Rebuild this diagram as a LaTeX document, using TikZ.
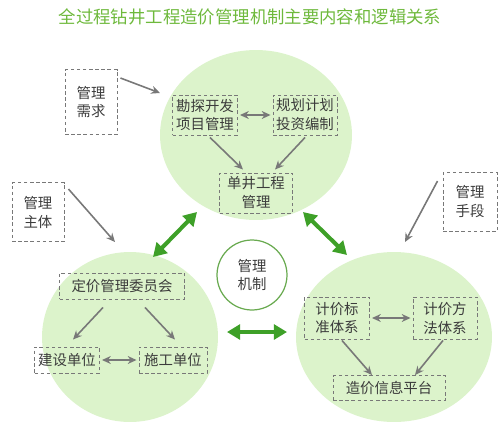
\documentclass[tikz,border=0pt]{standalone}
\usepackage{fontspec}
\newfontfamily\cjk{Noto Sans CJK SC}
\usetikzlibrary{shapes.geometric,arrows.meta,calc}
\definecolor{titlegreen}{RGB}{110,185,60}
\definecolor{circfill}{RGB}{220,243,203}
\definecolor{arrgreen}{RGB}{62,160,40}
\definecolor{ringgreen}{RGB}{105,170,80}
\definecolor{boxgray}{RGB}{120,120,120}
\definecolor{txtgray}{RGB}{60,60,60}
\definecolor{linegray}{RGB}{120,120,120}
\tikzset{
  zone/.style={ellipse, fill=circfill, inner sep=0pt},
  dbox/.style={draw=boxgray, dash pattern=on 2pt off 1.5pt, line width=0.55pt, text=txtgray,
    font=\cjk\fontsize{8.2}{10.8}\selectfont, align=center, inner sep=0pt},
  garr/.style={draw=linegray, line width=0.9pt, -{Stealth[length=5pt,width=4.5pt]}},
  gdarr/.style={draw=linegray, line width=0.9pt, {Stealth[length=5pt,width=4.5pt]}-{Stealth[length=5pt,width=4.5pt]}},
  bigarr/.style={draw=arrgreen, line width=2.3pt, {Triangle[length=7.5pt,width=8.5pt]}-{Triangle[length=7.5pt,width=8.5pt]}},
}
\begin{document}
\begin{tikzpicture}[x=0.02cm,y=-0.02cm]
\useasboundingbox (0,0) rectangle (500,423);
\node[font=\cjk\fontsize{9.9}{12}\selectfont, text=titlegreen] (title) at (250,17) {全过程钻井工程造价管理机制主要内容和逻辑关系};
% three zones
\node[zone, minimum width=3.84cm, minimum height=3.4cm] (topc) at (256,135) {};
\node[zone, minimum width=3.52cm, minimum height=3.4cm] (leftc) at (130,337) {};
\node[zone, minimum width=3.92cm, minimum height=3.4cm] (rightc) at (394,337) {};
\node[circle, draw=ringgreen, line width=0.7pt, fill=white, minimum size=1.4cm, inner sep=0pt,
  text=txtgray, font=\cjk\fontsize{8.2}{10.8}\selectfont, align=center] (jz) at (252,275) {管理\\机制};
% outer boxes
\node[dbox, minimum width=1.04cm, minimum height=1.3cm] (xq) at (91,102) {管理\\需求};
\node[dbox, minimum width=1.04cm, minimum height=1.18cm] (zt) at (38,212) {管理\\主体};
\node[dbox, minimum width=1.08cm, minimum height=1.18cm] (sd) at (470,202) {管理\\手段};
% top zone
\node[dbox, minimum width=1.3cm, minimum height=0.8cm] (kt) at (205,115) {勘探开发\\项目管理};
\node[dbox, minimum width=1.28cm, minimum height=0.8cm] (gh) at (305,115) {规划计划\\投资编制};
\node[dbox, minimum width=1.46cm, minimum height=0.8cm] (dj) at (256,193) {单井工程\\管理};
% left zone
\node[dbox, minimum width=2.5cm, minimum height=0.52cm] (dw) at (122,286) {定价管理委员会};
\node[dbox, minimum width=1.3cm, minimum height=0.52cm] (js) at (67,360) {建设单位};
\node[dbox, minimum width=1.36cm, minimum height=0.52cm] (sg) at (173,360) {施工单位};
% right zone
\node[dbox, minimum width=1.3cm, minimum height=0.84cm] (bz) at (337,318) {计价标\\准体系};
\node[dbox, minimum width=1.28cm, minimum height=0.84cm] (ff) at (445,318) {计价方\\法体系};
\node[dbox, minimum width=2.24cm, minimum height=0.5cm] (xx) at (389,388) {造价信息平台};
% gray links
\draw[garr] ($(kt.south)+(5,2)$) -- ($(dj.north)+(-13,-3)$);
\draw[garr] ($(gh.south)+(0,2)$) -- ($(dj.north)+(19,-3)$);
\draw[gdarr] ($(kt.east)+(2,0)$) -- ($(gh.west)+(-2,0)$);
\draw[garr] ($(dw.south)+(-19,8)$) -- ($(js.north)+(6,-7)$);
\draw[garr] ($(dw.south)+(23,8)$) -- ($(sg.north)+(2,-7)$);
\draw[gdarr] ($(js.east)+(2,0)$) -- ($(sg.west)+(-2,0)$);
\draw[garr] ($(bz.south)+(5,1)$) -- ($(xx.north)+(-17,0)$);
\draw[garr] ($(ff.south)+(-2,1)$) -- ($(xx.north)+(26,0)$);
\draw[gdarr] ($(bz.east)+(2,0)$) -- ($(ff.west)+(-2,0)$);
\draw[garr] ($(xq.north east)+(3,9)$) -- ($(topc.center)+(-96,-42)$);
\draw[garr] ($(zt.north east)+(4,7)$) -- ($(leftc.center)+(-15,-95)$);
\draw[garr] ($(sd.north west)+(-5,9)$) -- ($(rightc.center)+(11,-95)$);
% green links
\draw[bigarr] ($(topc.center)+(-59,77)$) -- ($(leftc.center)+(23,-80)$);
\draw[bigarr] ($(topc.center)+(47,77)$) -- ($(rightc.center)+(-47,-82)$);
\draw[bigarr] ($(leftc.center)+(97,-5)$) -- ($(rightc.center)+(-107,-5)$);
\end{tikzpicture}
\end{document}
